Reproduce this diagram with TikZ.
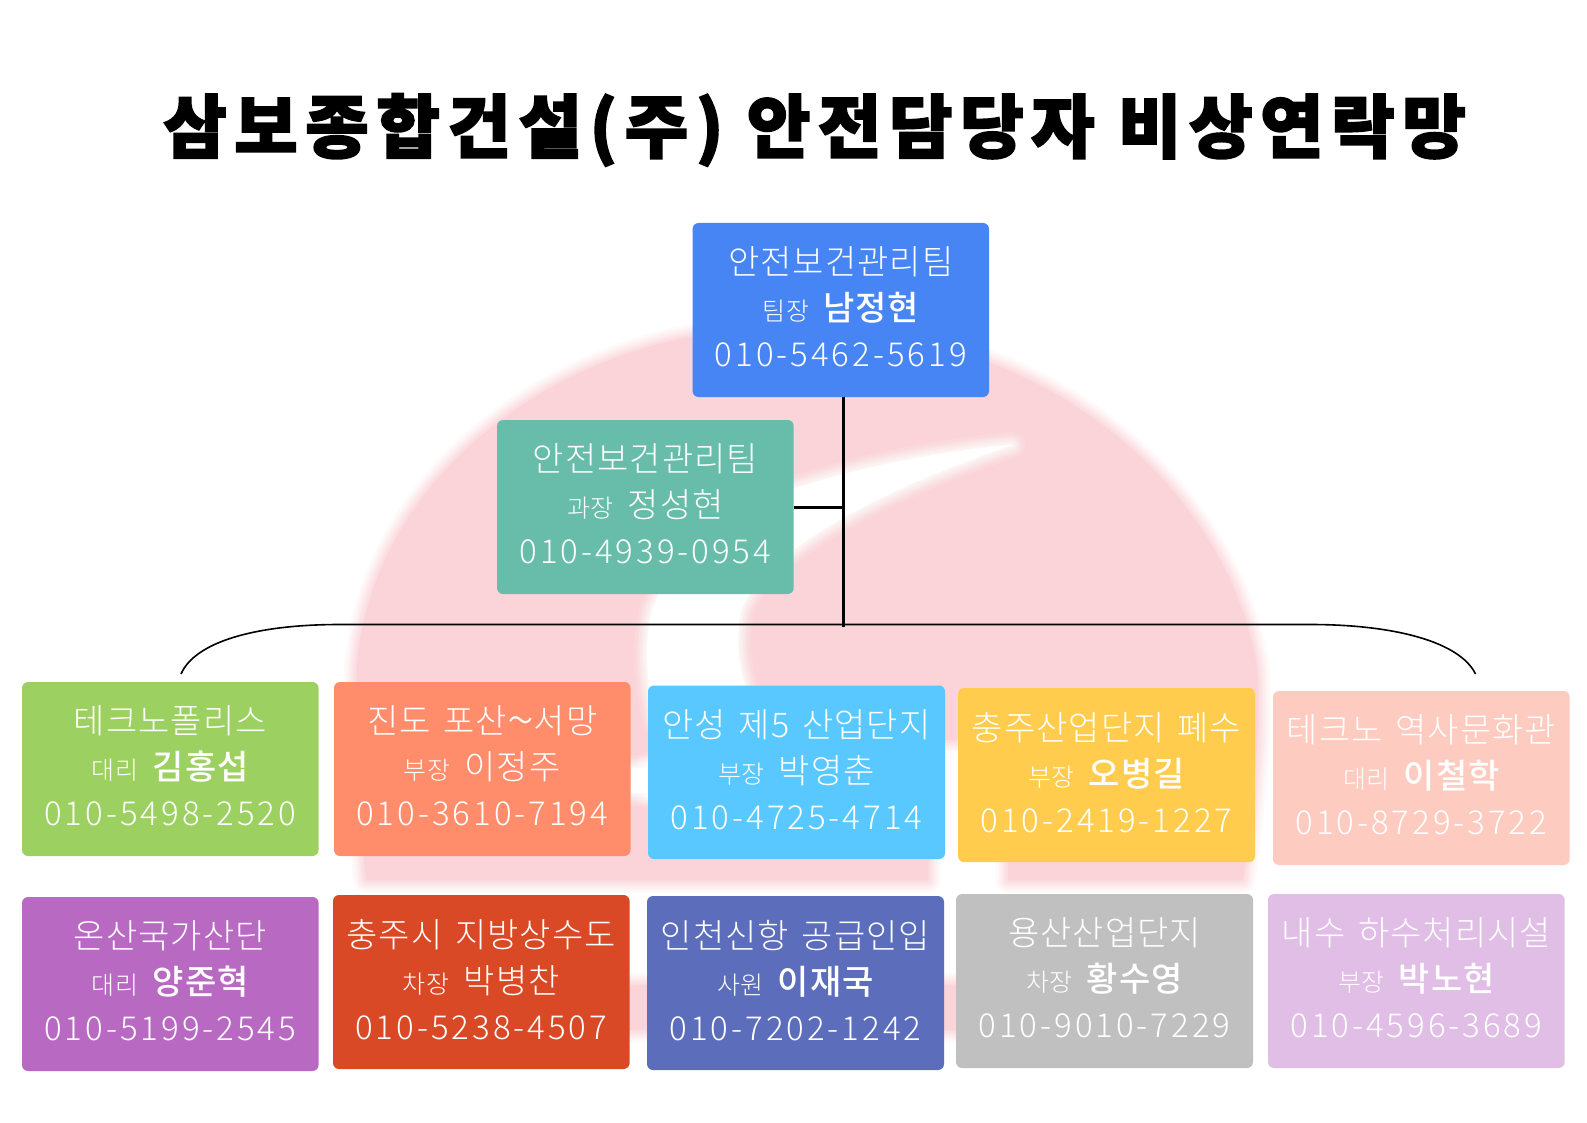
\documentclass[tikz,border=0pt]{standalone}
\usepackage{fontspec}
\setmainfont{Noto Sans CJK KR}
\newfontfamily\lt[LetterSpace=3,WordSpace=1.5]{Noto Sans CJK KR Light}
\newfontfamily\md[LetterSpace=3]{Noto Sans CJK KR Medium}
\newfontfamily\ph[LetterSpace=9]{Noto Sans CJK KR Light}
\newfontfamily\ttl[LetterSpace=11,FakeBold=2.5]{Noto Sans CJK KR Black}
\definecolor{logo}{HTML}{FAD4D8}
\definecolor{cTop}{HTML}{4785F5}
\definecolor{cTeal}{HTML}{67BDA9}
\definecolor{cLime}{HTML}{9CD161}
\definecolor{cOrange}{HTML}{FF8C6B}
\definecolor{cSky}{HTML}{58C8FF}
\definecolor{cYellow}{HTML}{FFCC4D}
\definecolor{cPeach}{HTML}{FDCBBF}
\definecolor{cPurple}{HTML}{B86AC3}
\definecolor{cRed}{HTML}{D94925}
\definecolor{cIndigo}{HTML}{5C6DBB}
\definecolor{cGray}{HTML}{C0C0C0}
\definecolor{cLav}{HTML}{E0BEE5}
\newcommand{\softfill}[2]{%
  \foreach \wd/\op in {26/.10,22/.12,18/.15,14/.2,10/.25,6/.3,2/.4}{%
    \draw[#1,draw opacity=\op,line width=\wd pt,line join=round] #2;}%
  \fill[#1] #2;}
\newcommand{\card}[7]{%
  \node[cardbox,fill=#2,minimum width={(#5-#3)*1pt},minimum height={(#6-#4)*1pt}] (#1) at ({(#3+#5)/2},{(#4+#6)/2}) {#7};}
\newcommand{\lin}[4]{{#1}\\{\fontsize{25}{46}\lt #2}\hspace{14pt}{#3}\\{\ph\fontsize{33}{46}\selectfont #4\rule[-6pt]{0pt}{6pt}}}
\newcommand{\bigtilde}{\raisebox{-5pt}{\fontsize{50}{46}\selectfont\textasciitilde}}
\tikzset{
  x=1pt,y=-1pt,
  cardbox/.style={rectangle,rounded corners=6pt,inner sep=0pt,text=white,align=center,
    font=\lt\fontsize{34}{46}\selectfont},
  feeder/.style={draw=black,line width=3pt},
  bus/.style={draw=black,line width=1.6pt},
}
\begin{document}
\begin{tikzpicture}
\useasboundingbox (0,0) rectangle (1587,1123);
% blurred logo behind the chart
\softfill{logo}{(366,880) .. controls (358,800) and (355,720) .. (357,667)
  .. controls (370,480) and (560,327) .. (790,327)
  .. controls (1060,327) and (1230,500) .. (1257,667)
  .. controls (1262,740) and (1250,820) .. (1243,880) -- (1008,880) -- (1008,740) -- (932,740) -- (928,880) -- cycle}
\softfill{logo}{(600,985) -- (1000,985) -- (1000,1030) -- (600,1030) -- cycle}
\softfill{white}{(1012,445) .. controls (930,452) and (850,470) .. (790,490)
  .. controls (705,520) and (668,570) .. (652,610)
  .. controls (645,640) and (645,670) .. (655,720) -- (760,720)
  .. controls (742,690) and (733,650) .. (741,610)
  .. controls (765,550) and (880,490) .. (1012,445) -- cycle}
\softfill{white}{(648,765) -- (945,765) -- (945,795) -- (648,795) -- cycle}
\softfill{white}{(631,768) -- (648,768) -- (648,793) -- (631,793) -- cycle}
% title
\node[font=\ttl\fontsize{69}{72}\selectfont,text=black,inner sep=0pt] (title) at (814.5,130) {삼보종합건설(주) 안전담당자 비상연락망};
% cards
\card{top}{cTop}{692.5}{223}{989}{397}{\lin{안전보건관리팀}{팀장}{\md 남정현}{010-5462-5619}}
\card{sub}{cTeal}{497}{420}{793.7}{594}{\lin{안전보건관리팀}{과장}{정성현}{010-4939-0954}}
\card{a1}{cLime}{22}{682}{318.6}{856}{\lin{테크노폴리스}{대리}{\md 김홍섭}{010-5498-2520}}
\card{a2}{cOrange}{334}{682}{630.5}{856}{\lin{진도 포산\bigtilde 서망}{부장}{이정주}{010-3610-7194}}
\card{a3}{cSky}{648}{685.5}{945}{859}{\lin{안성 제5 산업단지}{부장}{박영춘}{010-4725-4714}}
\card{a4}{cYellow}{958}{688}{1255}{862}{\lin{충주산업단지 폐수}{부장}{\md 오병길}{010-2419-1227}}
\card{a5}{cPeach}{1273}{691}{1569.7}{865}{\lin{테크노 역사문화관}{대리}{\md 이철학}{010-8729-3722}}
\card{b1}{cPurple}{22}{897}{318.6}{1071}{\lin{온산국가산단}{대리}{\md 양준혁}{010-5199-2545}}
\card{b2}{cRed}{333}{895}{629.6}{1069}{\lin{충주시 지방상수도}{차장}{박병찬}{010-5238-4507}}
\card{b3}{cIndigo}{647}{896}{944}{1070}{\lin{인천신항 공급인입}{사원}{\md 이재국}{010-7202-1242}}
\card{b4}{cGray}{956}{894}{1253}{1068}{\lin{용산산업단지}{차장}{\md 황수영}{010-9010-7229}}
\card{b5}{cLav}{1268}{894}{1564.7}{1068}{\lin{내수 하수처리시설}{부장}{\md 박노현}{010-4596-3689}}
% connectors
\coordinate (hub) at (843,627);
\coordinate (busL) at (181,674);
\coordinate (busR) at (1475.5,674);
\draw[feeder] (top.south -| hub) -- (hub);
\draw[feeder] (sub.east) -- (sub.east -| hub);
\draw[bus] (busL) .. controls (195,642) and (255,624.5) .. (340,624.5) -- (1310,624.5) .. controls (1395,624.5) and (1460,642) .. (busR);
\end{tikzpicture}
\end{document}
